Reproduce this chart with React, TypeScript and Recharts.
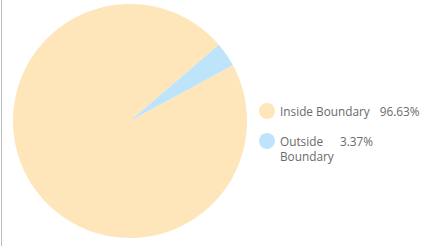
import React from 'react';
import { PieChart, Pie, Cell, Legend } from 'recharts';

const labels = ['Inside Boundary', 'Outside Boundary'];
const values = [96.63, 3.37];
const colors = ['#fee6ba', '#bde4fa'];

const data = labels.map((name, i) => ({ name, value: values[i] }));

const LegendBox = () => (
  <div style={{ fontFamily: '"Open Sans", sans-serif', fontSize: 11.8, color: '#6a6a6a', lineHeight: '15px' }}>
    {data.map((d, i) => (
      <div key={d.name} style={{ display: 'flex', alignItems: 'flex-start', marginBottom: i === 0 ? 15 : 0 }}>
        <span
          style={{
            width: 16,
            height: 16,
            borderRadius: 8,
            background: colors[i],
            marginRight: 5,
            marginTop: -1,
            flex: 'none',
          }}
        />
        <span style={{ width: i === 0 ? 'auto' : 58, flex: 'none' }}>{d.name}</span>
        <span style={{ marginLeft: i === 0 ? 10 : 2 }}>{d.value.toFixed(2)}%</span>
      </div>
    ))}
  </div>
);

export default function App() {
  return (
    <div style={{ position: 'fixed', left: 0, top: 0, width: 436, height: 246, background: '#fff' }}>
      <div style={{ position: 'absolute', left: 1, top: 0, width: 1, height: 246, background: '#bdbdbd' }} />
      <PieChart width={436} height={246} margin={{ top: 0, right: 0, bottom: 0, left: 0 }}>
        <Pie
          data={data}
          dataKey="value"
          nameKey="name"
          cx={130}
          cy={121}
          outerRadius={117}
          startAngle={40.6}
          endAngle={400.6}
          stroke="none"
          isAnimationActive={false}
        >
          {data.map((d, i) => (
            <Cell key={d.name} fill={colors[i]} />
          ))}
        </Pie>
        <Legend
          content={<LegendBox />}
          wrapperStyle={{ left: 259, top: 104, width: 175 }}
        />
      </PieChart>
    </div>
  );
}
